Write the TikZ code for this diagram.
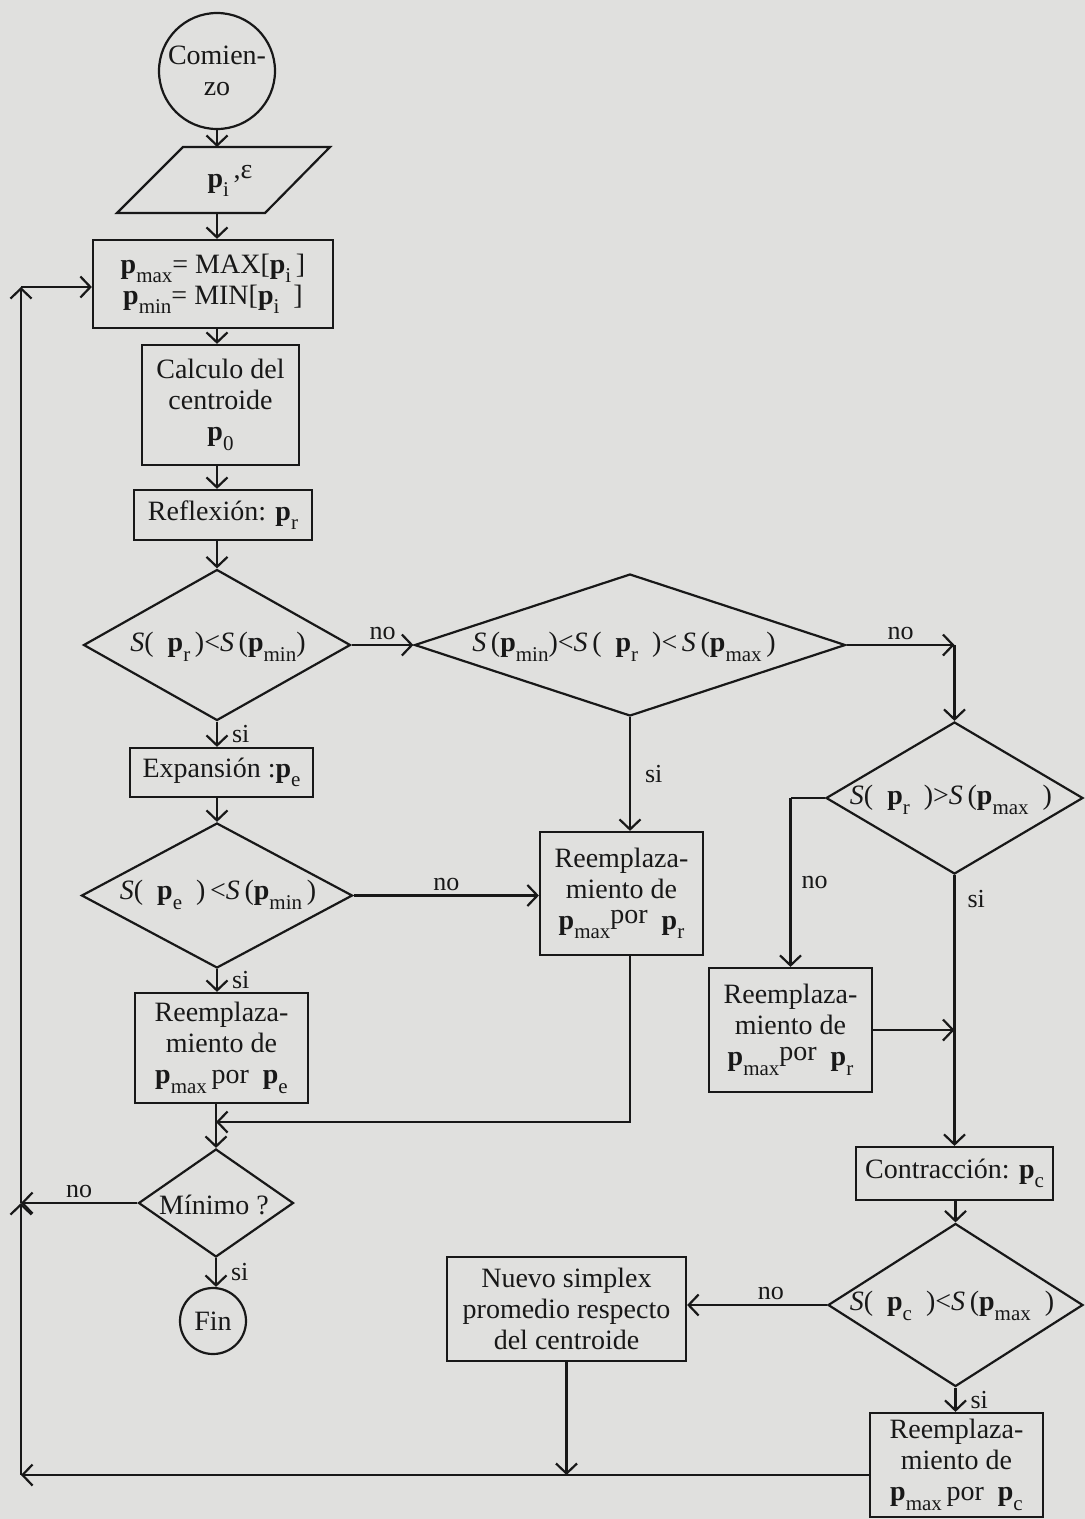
\documentclass[tikz,border=0pt]{standalone}
\usepackage{fontspec}
\setmainfont{Liberation Serif}
\usetikzlibrary{shapes.geometric,arrows.meta}
\definecolor{paper}{RGB}{224,224,222}
\definecolor{ink}{RGB}{24,24,24}
% bold point vector, lowered subscript, italic objective function
\newcommand\vp{\textbf{p}}
\newcommand\sbs[1]{\raisebox{-0.34em}{\fontsize{21}{21}\selectfont #1}}
\newcommand\Sf{\textit{S}}
\begin{document}
\begin{tikzpicture}[x=1pt,y=-1pt,
  color=ink, line width=2.2pt,
  font=\fontsize{28}{31}\selectfont,
  box/.style={draw, rectangle, inner sep=0pt, align=center},
  dia/.style={draw, diamond, inner sep=0pt},
  term/.style={draw, circle, inner sep=0pt, align=center},
  txt/.style={inner sep=0pt, align=center},
  lbl/.style={inner sep=0pt, font=\fontsize{26}{26}\selectfont},
  arr/.style={-{Straight Barb[length=10pt,width=21pt]}}
]
\useasboundingbox (0,0) rectangle (1085,1519);
\fill[paper] (0,0) rectangle (1085,1519);

% ---- main column ----
\node[term, minimum size=116pt] (start) at (217,71) {Comien-\\zo};

\coordinate (inTop) at (217,147);
\coordinate (inBot) at (217,213);
\draw (183,147) -- (330,147) -- (265,213) -- (117,213) -- cycle;
\node[txt] (inp) at (230,181) {\vp\sbs{i}\,\raisebox{0.3em}{,ε}};

\node[box, minimum width=240pt, minimum height=88pt] (ext) at (213,284)
  {\vp\sbs{max}= MAX[\vp\sbs{i}\,]\\\vp\sbs{min}= MIN[\vp\sbs{i}\enspace]};
\node[box, minimum width=157pt, minimum height=120pt] (cent) at (220.5,405)
  {Calculo del\\centroide\\\vp\sbs{0}};
\node[box, minimum width=178pt, minimum height=50pt] (refl) at (223,515)
  {Reflexión: \vp\sbs{r}};

\node[dia, minimum width=267pt, minimum height=151pt] (d1) at (217,645) {};
\node[txt] (d1t) at (218,647) {\Sf(\enspace\vp\sbs{r}\,)<\Sf\,(\vp\sbs{min})};

\node[dia, minimum width=431pt, minimum height=142pt] (d2) at (630,645) {};
\node[txt] (d2t) at (624,647)
  {\Sf\,(\vp\sbs{min})<\Sf\,(\enspace\vp\sbs{r}\enspace)<\,\Sf\,(\vp\sbs{max}\,)};

\node[box, minimum width=183pt, minimum height=49pt] (exp) at (221.5,772.5)
  {Expansión :\vp\sbs{e}};

\node[dia, minimum width=271pt, minimum height=145pt] (de) at (217,895.5) {};
\node[txt] (det) at (218,895)
  {\Sf(\enspace\vp\sbs{e}\enspace)\,<\Sf\,(\vp\sbs{min}\,)};

\node[box, minimum width=163pt, minimum height=123pt] (r1) at (621.5,893.5)
  {Reemplaza-\\miento de\\\vp\sbs{max}\raisebox{0.2em}{por}\enspace\vp\sbs{r}};
\node[box, minimum width=173pt, minimum height=110pt] (re) at (221.5,1048)
  {Reemplaza-\\miento de\\\vp\sbs{max}\,por\enspace\vp\sbs{e}};

\node[dia, minimum width=155pt, minimum height=108pt] (dm) at (216,1203) {};
\node[txt] (dmt) at (214,1205) {Mínimo ?};
\node[term, minimum size=66pt] (fin) at (213,1321) {Fin};

% ---- right branch ----
\node[dia, minimum width=257pt, minimum height=152pt] (d3) at (954.5,798) {};
\node[txt] (d3t) at (951,800)
  {\Sf(\enspace\vp\sbs{r}\enspace)>\Sf\,(\vp\sbs{max}\enspace)};
\node[box, minimum width=163pt, minimum height=124pt] (r2) at (790.5,1030)
  {Reemplaza-\\miento de\\\vp\sbs{max}\raisebox{0.2em}{por}\enspace\vp\sbs{r}};
\node[box, minimum width=197pt, minimum height=53pt] (con) at (954.5,1173.5)
  {Contracción: \vp\sbs{c}};
\node[dia, minimum width=255pt, minimum height=163pt] (d4) at (955.5,1305) {};
\node[txt] (d4t) at (952,1306)
  {\Sf(\enspace\vp\sbs{c}\enspace)<\Sf\,(\vp\sbs{max}\enspace)};
\node[box, minimum width=239pt, minimum height=104pt] (nue) at (566.5,1309)
  {Nuevo simplex\\promedio respecto\\del centroide};
\node[box, minimum width=173pt, minimum height=104pt] (r3) at (956.5,1465)
  {Reemplaza-\\miento de\\\vp\sbs{max}\,por\enspace\vp\sbs{c}};

% ---- junctions and return loop ----
\coordinate (j1) at (216,1122);
\coordinate (lpB) at (21,1475);
\coordinate (lpT) at (21,287);
\coordinate (k1) at (d3.north |- d2.east);
\coordinate (k2) at (r2.north |- d3.west);
\coordinate (j2) at (d3.south |- r2.east);

% ---- connectors ----
\draw[arr] (start.south) -- (inTop);
\draw[arr] (inBot) -- (inBot |- ext.north);
\draw[arr] (ext.south -| inBot) -- (cent.north -| inBot);
\draw[arr] (cent.south -| inBot) -- (refl.north -| inBot);
\draw[arr] (refl.south -| d1.north) -- (d1.north);
\draw[arr] (d1.east) -- node[lbl, above=4pt] (no1) {no} (d2.west);
\draw[arr] (d1.south) -- node[lbl, right=14pt] (si1) {si} (d1.south |- exp.north);
\draw[arr] (exp.south -| de.north) -- (de.north);
\draw[arr] (de.east) -- node[lbl, above=4pt] (no3) {no} (de.east -| r1.west);
\draw[arr] (de.south) -- node[lbl, right=14pt] (si2) {si} (de.south |- re.north);
\draw[arr] (d2.south) -- node[lbl, right=14pt] (si3) {si} (d2.south |- r1.north);
\draw[arr] (r1.south -| d2.south) |- (j1);
\draw[arr] (re.south -| dm.north) -- (dm.north);
\draw[arr] (dm.south) -- node[lbl, right=14pt] (si4) {si} (dm.south |- fin.north);
\draw[arr] (dm.west) -- node[lbl, above=4pt] (no4) {no} (dm.west -| lpB);

\draw[arr] (d2.east) -- node[lbl, above=4pt] (no2) {no} (k1);
\draw[arr] (k1) -- (d3.north);
\draw (d3.west) -- (k2);
\draw[arr] (k2) -- node[lbl, right=10pt] (no5) {no} (r2.north);
\draw[arr] (r2.east) -- (j2);
\draw[arr] (d3.south) -- node[lbl, right=12pt, pos=0.09] (si5) {si} (con.north -| d3.south);
\draw[arr] (con.south -| d4.north) -- (d4.north);
\draw[arr] (d4.west) -- node[lbl, above=4pt, pos=0.4] (no6) {no} (nue.east |- d4.west);
\draw[arr] (d4.south) -- node[lbl, right=14pt] (si6) {si} (d4.south |- r3.north);

\draw[arr] (nue.south) -- (nue.south |- lpB);
\draw[arr] (r3.west |- lpB) -- (lpB);
\draw[arr] (lpB) -- (lpB |- dm.west);
\draw[arr] (lpB |- dm.west) -- (lpT);
\draw[arr] (lpT) -- (lpT -| ext.west);
\end{tikzpicture}
\end{document}
